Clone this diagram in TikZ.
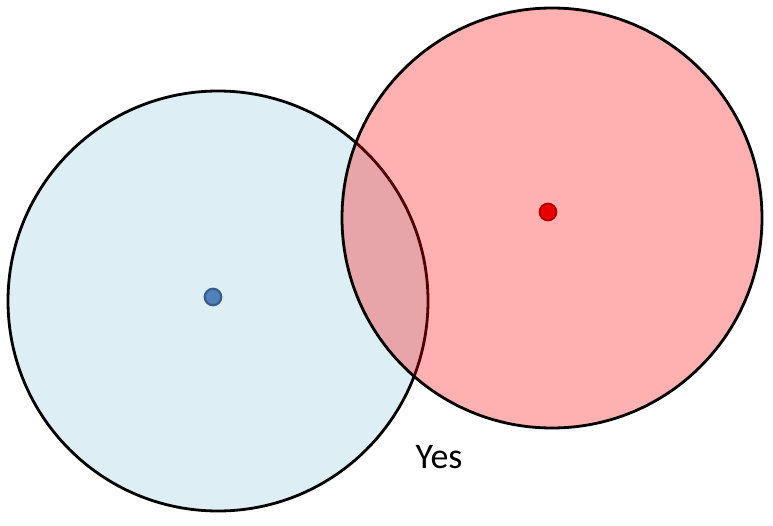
\documentclass[tikz,border=0pt]{standalone}
\usepackage{fontspec}
\setmainfont{Carlito}
\definecolor{bluefill}{RGB}{221,238,245}
\definecolor{dotblue}{RGB}{79,129,189}
\definecolor{dotblueb}{RGB}{56,93,138}
\definecolor{dotred}{RGB}{235,0,0}
\definecolor{dotredb}{RGB}{190,0,0}
\tikzset{
  ring/.style={draw=black,line width=2.8pt},
  centre/.style={circle,inner sep=0pt,minimum size=16.5pt,line width=2.2pt},
}
\begin{document}
\begin{tikzpicture}[x=1pt,y=-1pt]
\useasboundingbox (0,0) rectangle (773,525);
\fill[white] (0,0) rectangle (773,525);
\node[ring,circle,fill=bluefill,minimum size=420pt,inner sep=0pt] (blue) at (218,301) {};
\node[ring,circle,fill=red,fill opacity=0.31,minimum size=420pt,inner sep=0pt] (red) at (552,218) {};
\node[centre,fill=dotblue,draw=dotblueb] (bc) at (213,297) {};
\node[centre,fill=dotred,draw=dotredb] (rc) at (548,212) {};
\node[font=\fontsize{36}{40}\selectfont] (yes) at (439,457) {Yes};
\end{tikzpicture}
\end{document}
